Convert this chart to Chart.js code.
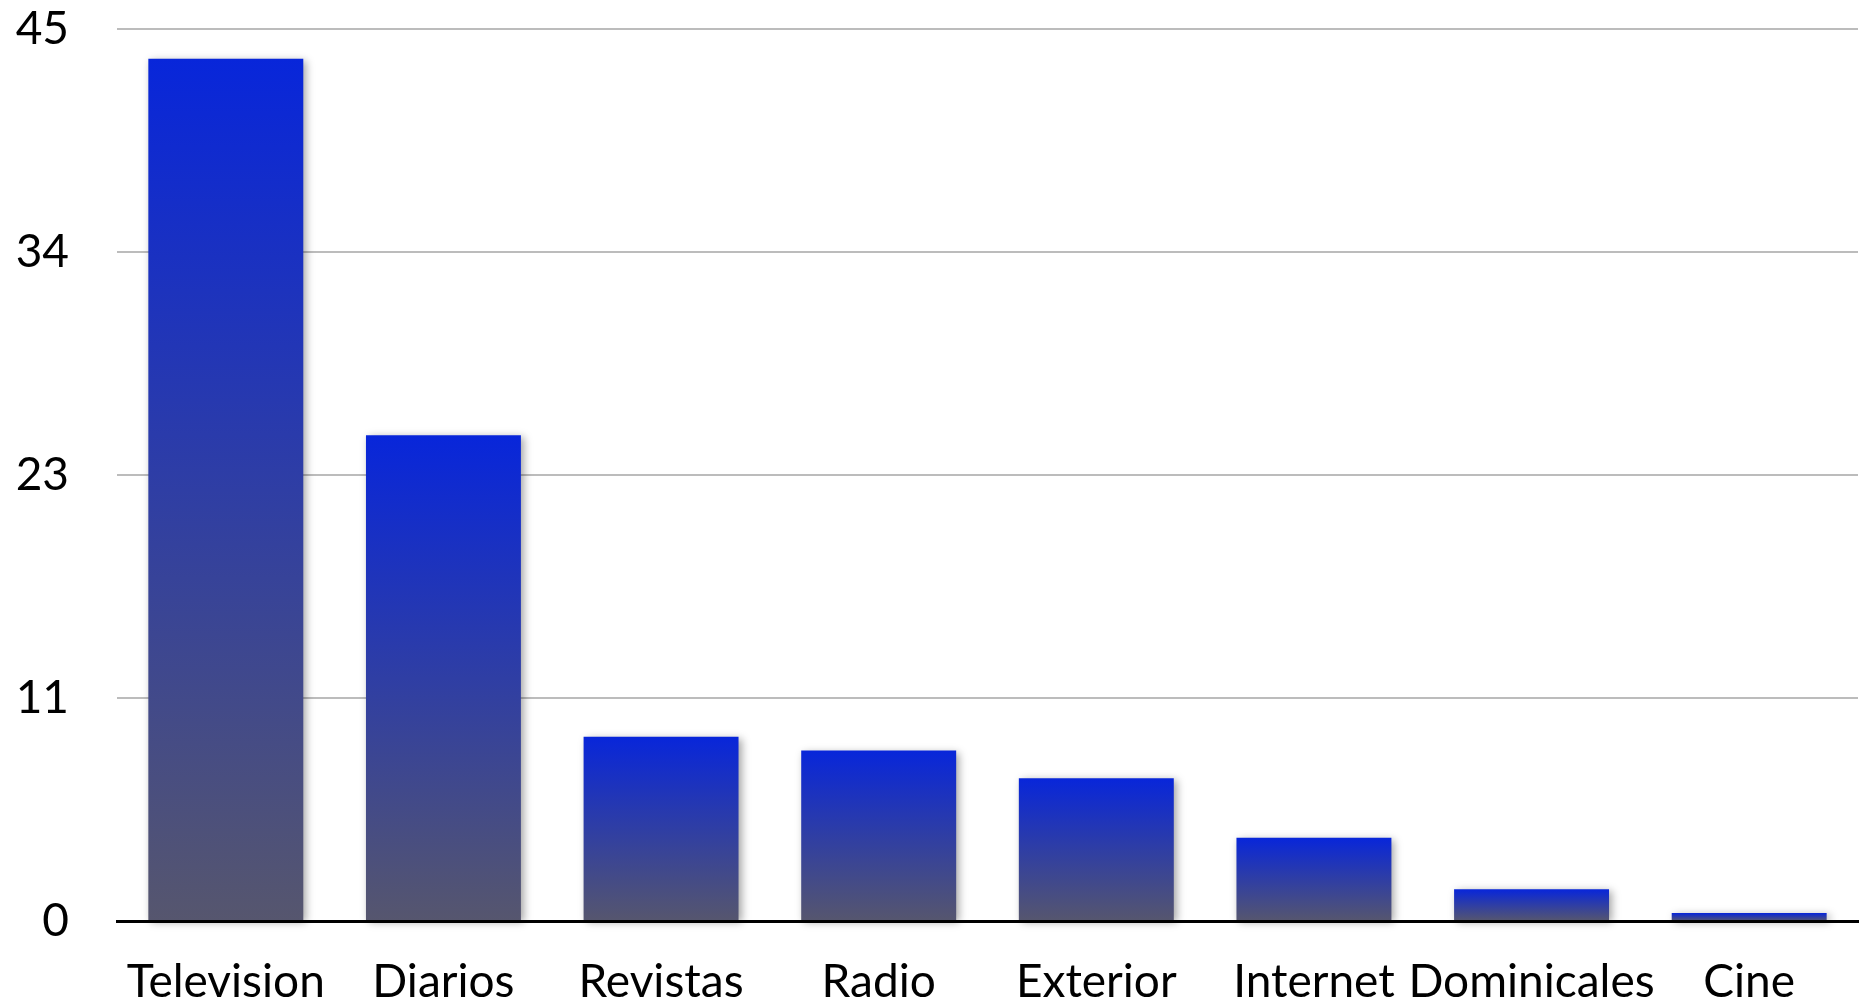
<!DOCTYPE html>
<html>
<head>
<meta charset="utf-8">
<script src="https://cdn.jsdelivr.net/npm/chart.js@4/dist/chart.umd.min.js"></script>
<style>
  html, body { margin: 0; padding: 0; background: #ffffff; }
  #wrap { width: 1868px; height: 1002px; position: relative; }
</style>
</head>
<body>
<div id="wrap"><canvas id="c" width="1868" height="1002"></canvas></div>
<script>
const categories = ['Television', 'Diarios', 'Revistas', 'Radio', 'Exterior', 'Internet', 'Dominicales', 'Cine'];
const values = [43.5, 24.5, 9.3, 8.6, 7.2, 4.2, 1.6, 0.4];
const yTickValues = [0, 11.25, 22.5, 33.75, 45];
const yTickLabels = ['0', '11', '23', '34', '45'];

const TOP_COLOR = 'rgb(8,38,218)';
const BOTTOM_COLOR = 'rgb(86,86,110)';
const FONT = { family: 'Lato, "Noto Sans", sans-serif', size: 46 };

function barGradient(ctx) {
  const chart = ctx.chart;
  const yScale = chart.scales && chart.scales.y;
  if (!chart.chartArea || !yScale) return TOP_COLOR;
  const v = ctx.raw;
  const top = yScale.getPixelForValue(v);
  const bottom = yScale.getPixelForValue(0);
  if (!isFinite(top) || !isFinite(bottom) || bottom - top < 0.5) return TOP_COLOR;
  const g = chart.ctx.createLinearGradient(0, top, 0, bottom);
  g.addColorStop(0, TOP_COLOR);
  g.addColorStop(1, BOTTOM_COLOR);
  return g;
}

const shadowPlugin = {
  id: 'barShadow',
  beforeDatasetsDraw(chart) {
    const c = chart.ctx;
    c.save();
    c.shadowColor = 'rgba(0,0,0,0.35)';
    c.shadowBlur = 8;
    c.shadowOffsetX = 3;
    c.shadowOffsetY = 2;
  },
  afterDatasetsDraw(chart) {
    chart.ctx.restore();
  }
};

new Chart(document.getElementById('c'), {
  type: 'bar',
  data: {
    labels: categories,
    datasets: [{
      data: values,
      backgroundColor: barGradient,
      borderWidth: 0,
      categoryPercentage: 1,
      barPercentage: 0.712,
      clip: false
    }]
  },
  plugins: [shadowPlugin],
  options: {
    responsive: false,
    animation: false,
    events: [],
    layout: { padding: { top: 0, right: 10, bottom: 0, left: 0 } },
    plugins: { legend: { display: false }, tooltip: { enabled: false } },
    scales: {
      x: {
        z: 1,
        grid: { display: false, drawTicks: false },
        border: { display: true, color: '#000000', width: 3 },
        ticks: { color: '#000000', font: FONT, padding: 34, maxRotation: 0, autoSkip: false },
        afterFit(scale) { scale.height = 81; }
      },
      y: {
        min: 0,
        max: 45,
        afterBuildTicks(scale) { scale.ticks = yTickValues.map(v => ({ value: v })); },
        grid: { color: '#bcbcbc', lineWidth: 2, drawTicks: false },
        border: { display: false },
        ticks: {
          color: '#000000',
          font: FONT,
          padding: 48,
          callback: (v, i) => yTickLabels[i]
        },
        afterFit(scale) { scale.width = 117; scale.paddingTop = 29; scale.paddingBottom = 0; }
      }
    }
  }
});
</script>
</body>
</html>
